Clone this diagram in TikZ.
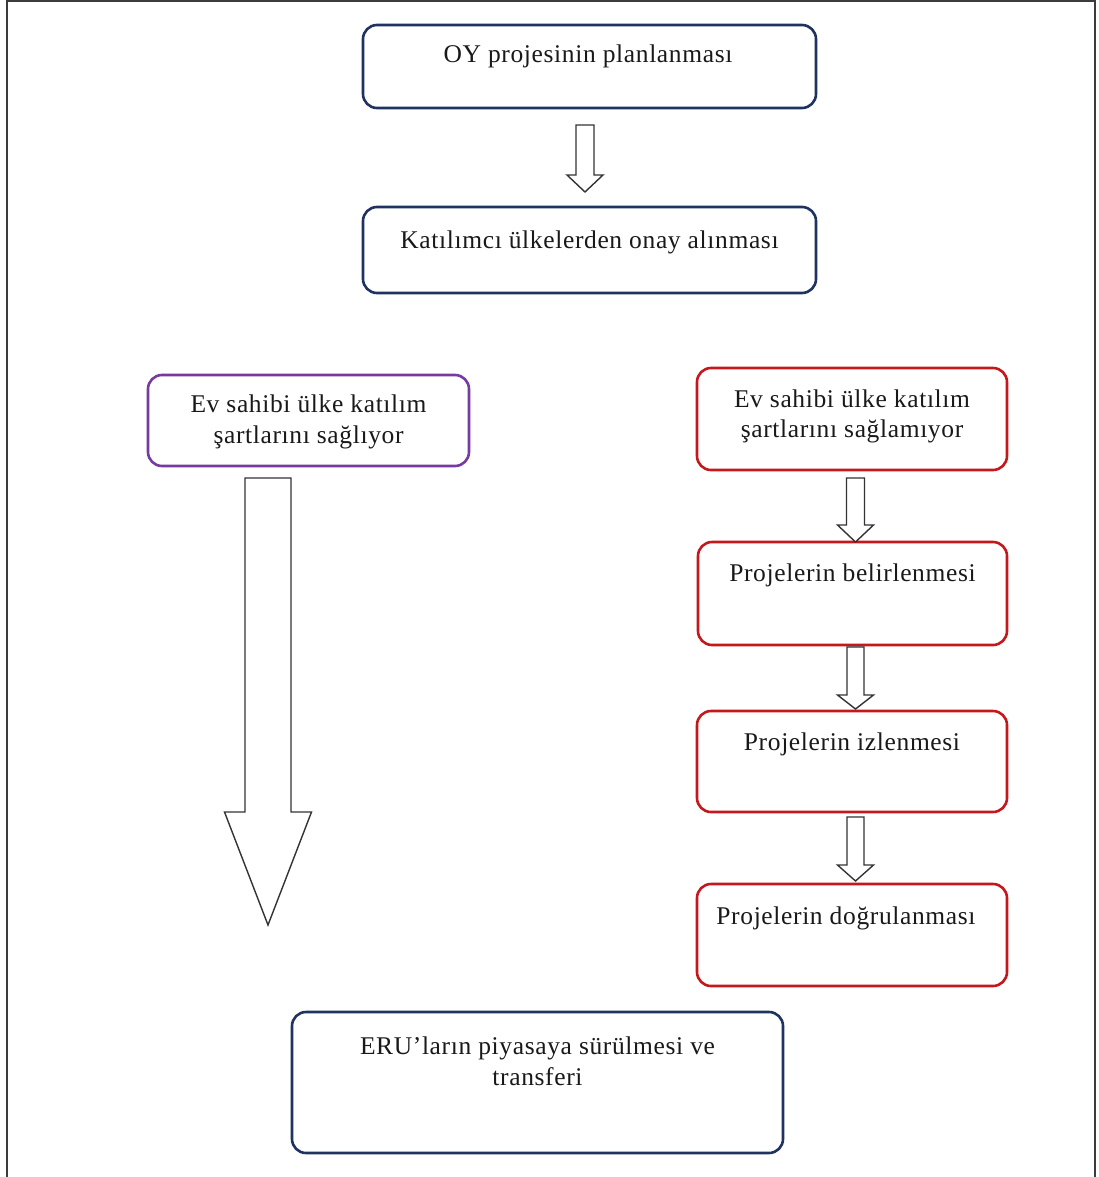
\documentclass[tikz,border=0pt]{standalone}
\usepackage{fontspec}
\setmainfont{Liberation Serif}
\newfontfamily\boxfont[LetterSpace=2.5]{Liberation Serif}
\definecolor{navyb}{RGB}{31,50,96}
\definecolor{purpb}{RGB}{118,58,160}
\definecolor{redb}{RGB}{196,24,28}
\definecolor{framec}{RGB}{60,60,60}
\tikzset{
  box/.style={draw, rounded corners=14pt, line width=2.6pt, fill=white, inner sep=0pt},
  navybox/.style={box, draw=navyb},
  purpbox/.style={box, draw=purpb},
  redbox/.style={box, draw=redb},
  txt/.style={font=\boxfont\fontsize{25.5}{30.5}\selectfont, align=center, inner sep=0pt, text=black!90},
  barrow/.style={draw=black!80, line width=1.4pt, fill=white, line join=miter},
}
\newcommand\blkarrow[6]{%
  \draw[barrow] ({#1-#2},-#3) -- ({#1+#2},-#3) -- ({#1+#2},-#4) -- ({#1+#5},-#4)
    -- (#1,-#6) -- ({#1-#5},-#4) -- ({#1-#2},-#4) -- cycle;}
\begin{document}
\begin{tikzpicture}[x=1pt,y=1pt]
\useasboundingbox (0,0) rectangle (1098,-1177);
\fill[white] (0,0) rectangle (1098,-1177);
\draw[framec, line width=2pt] (7,-1177) -- (7,-1.5) -- (1095,-1.5) -- (1095,-1177);

% boxes
\node[navybox, minimum width=453pt, minimum height=83pt] (b1) at (589.5,-66.5) {};
\node[navybox, minimum width=453pt, minimum height=86pt] (b2) at (589.5,-250) {};
\node[purpbox, minimum width=321pt, minimum height=91pt] (p1) at (308.5,-420.5) {};
\node[redbox, minimum width=310pt, minimum height=102pt] (r1) at (852,-419) {};
\node[redbox, minimum width=309pt, minimum height=103pt] (r2) at (852.5,-593.5) {};
\node[redbox, minimum width=310pt, minimum height=101pt] (r3) at (852,-761.5) {};
\node[redbox, minimum width=310pt, minimum height=102pt] (r4) at (852,-935) {};
\node[navybox, minimum width=491pt, minimum height=141pt] (e1) at (537.5,-1082.5) {};

% texts
\node[txt, anchor=base] (tb1) at (588,-63) {OY projesinin planlanması};
\node[txt, anchor=base] (tb2) at (589.5,-248) {Katılımcı ülkelerden onay alınması};
\node[txt] (tp1) at (308.5,-422) {Ev sahibi ülke katılım\\şartlarını sağlıyor};
\node[txt] (tr1) at (852,-416.5) {Ev sahibi ülke katılım\\şartlarını sağlamıyor};
\node[txt, anchor=base] (tr2) at (852.5,-581) {Projelerin belirlenmesi};
\node[txt, anchor=base] (tr3) at (852,-750) {Projelerin izlenmesi};
\node[txt, anchor=base] (tr4) at (846,-924) {Projelerin doğrulanması};
\node[txt] (te1) at (537.5,-1061.5) {ERU’ların piyasaya sürülmesi ve\\transferi};

% block arrows
\blkarrow{585}{9}{125}{175}{18}{192}
\blkarrow{268}{23}{478}{812}{43.5}{925}
\blkarrow{855.5}{9}{478}{525}{18}{542}
\blkarrow{855.5}{8.5}{647}{695}{18}{709}
\blkarrow{855.5}{8.5}{817}{865}{18}{881}
\end{tikzpicture}
\end{document}
